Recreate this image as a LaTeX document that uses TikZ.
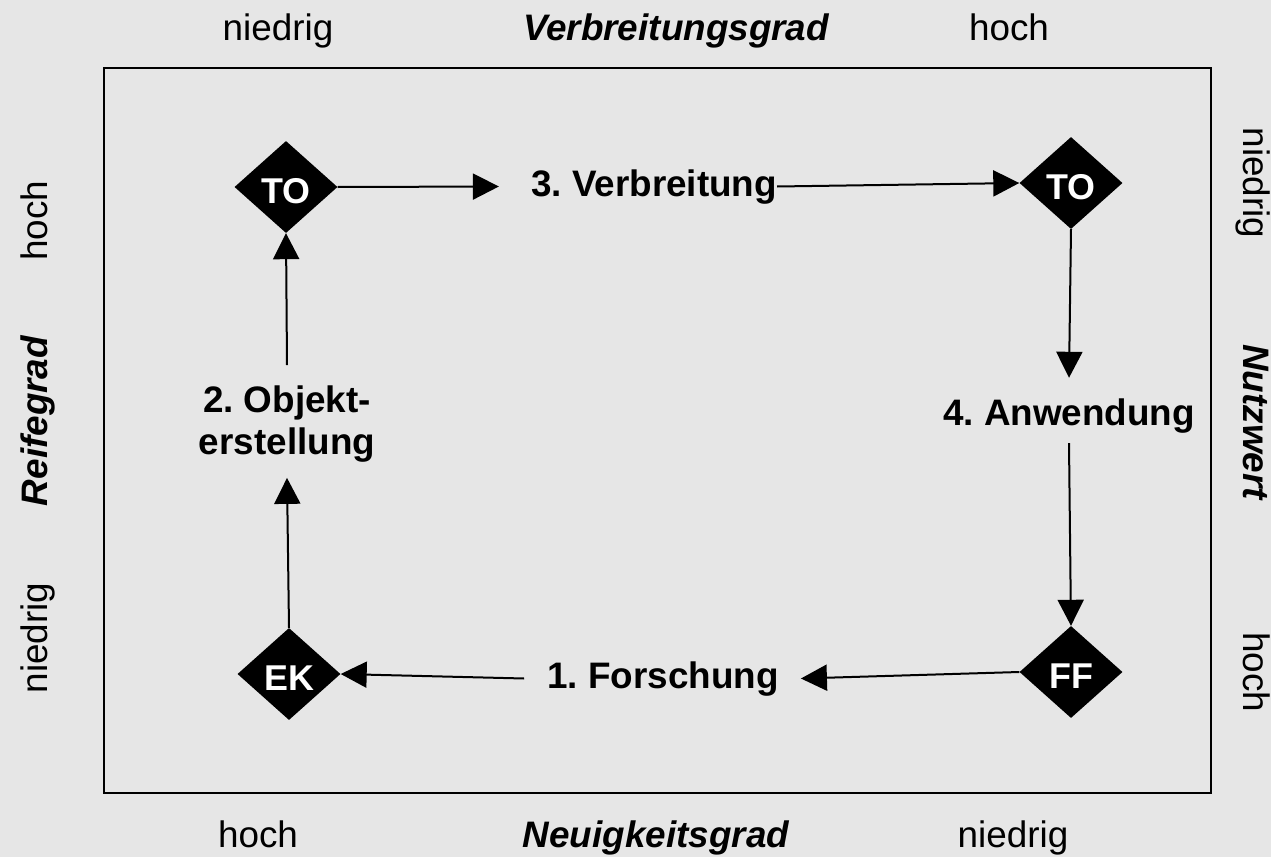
\documentclass[tikz,border=0pt]{standalone}
\usepackage{fontspec}
\setmainfont{Liberation Sans}
\usetikzlibrary{shapes.geometric,arrows.meta}
\definecolor{bgray}{RGB}{230,230,230}
\frenchspacing

\begin{document}
\begin{tikzpicture}[x=1bp,y=-1bp]
    \tikzstyle{diam}=[diamond,fill=black,inner sep=0,minimum width=103bp,minimum height=92bp,text=white,text height=33bp,text depth=0bp,font=\fontsize{36}{40}\selectfont\bfseries]
    \tikzstyle{stage}=[inner sep=0,text height=27bp,text depth=8bp,anchor=base,font=\fontsize{37}{43}\selectfont\bfseries]
    \tikzstyle{axis}=[inner sep=0,text height=27bp,text depth=8bp,anchor=base,font=\fontsize{37}{43}\selectfont]
    \tikzstyle{axtitle}=[axis,font=\fontsize{37}{43}\selectfont\bfseries\itshape]
    \tikzstyle{flow}=[line width=2bp,-{Triangle[length=26bp,width=26bp]}]

    \path[use as bounding box,fill=bgray] (0,0) rectangle (1271,857);
    \draw[line width=2.5bp] (104,68) rectangle (1211,793);

    \node at (278,40) (xlow) [axis] {niedrig};
    \node at (676,40) (xtitle) [axtitle] {Verbreitungsgrad};
    \node at (1009,40) (xhigh) [axis] {hoch};
    \node at (258,847) (nhigh) [axis] {hoch};
    \node at (656,847) (ntitle) [axtitle] {Neuigkeitsgrad};
    \node at (1013,847) (nlow) [axis] {niedrig};
    \node at (47,221) (rhigh) [axis, rotate=90] {hoch};
    \node at (47,421) (rtitle) [axtitle, rotate=90] {Reifegrad};
    \node at (47,638) (rlow) [axis, rotate=90] {niedrig};
    \node at (1243,183) (ulow) [axis, rotate=-90] {niedrig};
    \node at (1243,422) (utitle) [axtitle, rotate=-90] {Nutzwert};
    \node at (1243,672) (uhigh) [axis, rotate=-90] {hoch};

    \node at (286,187) (to1) [diam] {TO};
    \node at (1071,183) (to2) [diam] {TO};
    \node at (289,674) (ek) [diam] {EK};
    \node at (1071,672) (ff) [diam] {FF};

    \node at (654,196) (verb) [stage] {3. Verbreitung};
    \node at (1069,425) (anw) [stage] {4. Anwendung};
    \node at (663,688) (forsch) [stage] {1. Forschung};
    \node at (287,424) (obj) [inner sep=0,align=center,font=\fontsize{37}{43}\selectfont\bfseries] {2. Objekt-\\erstellung};

    \draw[flow] (to1.east) -- ([xshift=-32bp]verb.west);
    \draw[flow] (verb.east) -- (to2.west);
    \draw[flow] (to2.south) -- ([yshift=20bp]anw.north);
    \draw[flow] ([yshift=-10bp]anw.south) -- (ff.north);
    \draw[flow] (ff.west) -- ([xshift=22bp]forsch.east);
    \draw[flow] ([xshift=-23bp]forsch.west) -- (ek.east);
    \draw[flow] (ek.north) -- ([yshift=-15bp]obj.south);
    \draw[flow] ([yshift=20bp]obj.north) -- (to1.south);
\end{tikzpicture}
\end{document}
